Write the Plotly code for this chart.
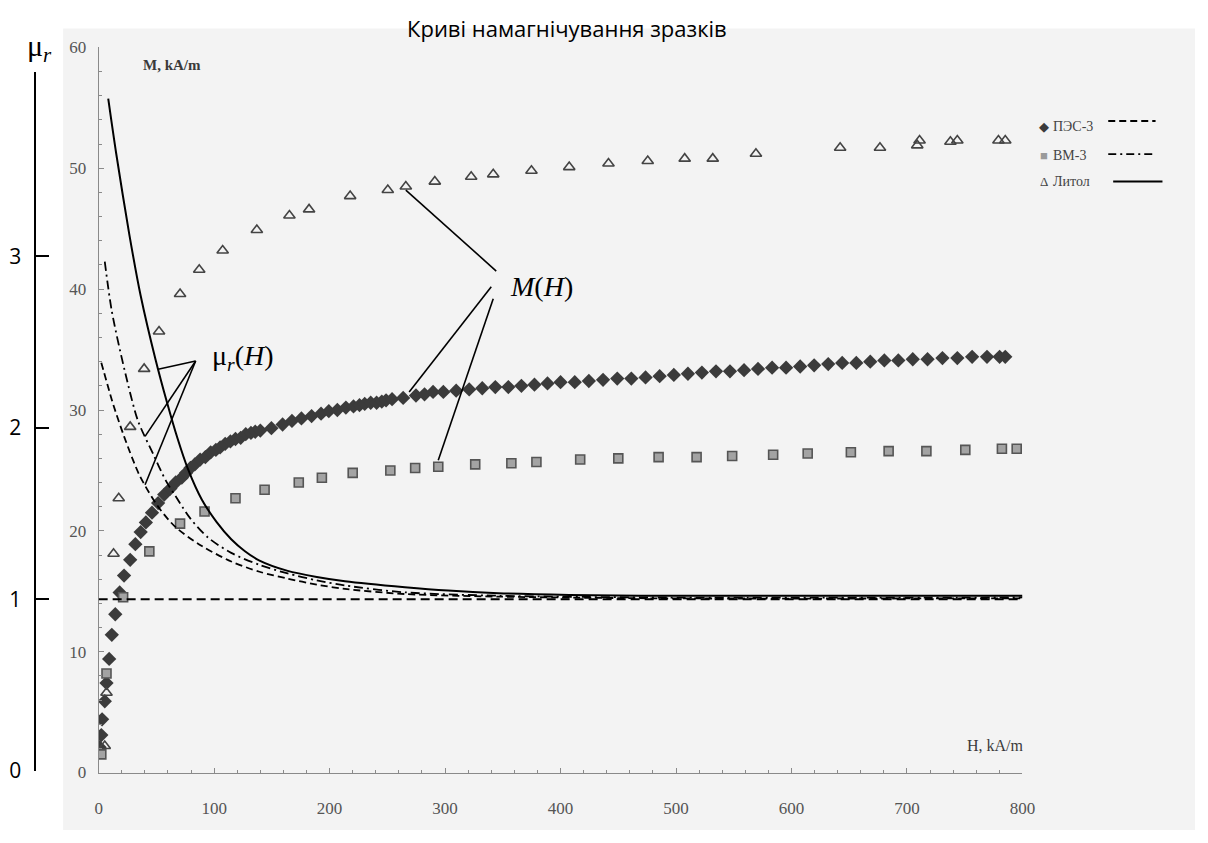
import numpy as np
import plotly.graph_objects as go

W, HT = 1208, 843

# ---- magnetisation M(H), H and M in kA/m ----
pes_h = [0.8, 2.3, 3.0, 5.3, 6.8, 9.1, 11.4, 14.4, 18.2, 22.0,
         27.3, 31.8, 36.4, 40.9, 46.2, 51.5, 56.8, 62.1, 66.7, 72.0,
         75.8, 79.5, 83.3, 87.9, 92.4, 97.0, 101.5, 105.2, 109.6, 114.1,
         118.5, 123.0, 127.4, 131.9, 135.6, 140.0, 149.6, 159.3, 167.4, 175.6,
         184.4, 192.6, 199.3, 206.7, 214.1, 220.7, 225.9, 230.4, 235.6, 240.7,
         245.2, 248.9, 254.1, 263.7, 274.8, 282.2, 289.6, 298.5, 309.6, 320.9,
         332.2, 343.5, 354.8, 366.1, 377.4, 388.7, 400.0, 412.3, 424.5, 436.8,
         449.1, 461.3, 473.6, 485.8, 498.1, 510.3, 522.4, 534.6, 546.7, 558.9,
         571.0, 583.2, 595.3, 607.5, 619.6, 631.8, 643.9, 656.1, 668.2, 680.4,
         692.5, 705.0, 717.8, 730.7, 743.6, 756.4, 769.3, 780.2, 785.1]
pes_m = [2.1, 3.1, 4.4, 5.9, 7.4, 9.4, 11.4, 13.1, 14.9, 16.3,
         17.6, 18.9, 19.9, 20.7, 21.5, 22.3, 23.0, 23.5, 24.0, 24.4,
         24.8, 25.2, 25.5, 25.9, 26.1, 26.5, 26.7, 26.9, 27.2, 27.4,
         27.6, 27.7, 28.0, 28.1, 28.2, 28.3, 28.5, 28.8, 29.1, 29.3,
         29.5, 29.7, 29.9, 30.0, 30.2, 30.3, 30.4, 30.5, 30.6, 30.6,
         30.7, 30.8, 30.9, 31.0, 31.2, 31.3, 31.5, 31.5, 31.6, 31.7,
         31.8, 31.9, 31.9, 32.0, 32.1, 32.2, 32.3, 32.3, 32.4, 32.5,
         32.6, 32.6, 32.7, 32.8, 32.9, 33.0, 33.1, 33.2, 33.2, 33.3,
         33.4, 33.5, 33.5, 33.6, 33.7, 33.8, 33.9, 33.9, 34.0, 34.1,
         34.1, 34.2, 34.2, 34.3, 34.3, 34.4, 34.4, 34.4, 34.4]

vm_h = [2.3, 6.8, 21.2, 43.9, 70.5, 91.7, 118.5, 143.7, 173.3, 193.3,
        220.0, 252.6, 274.1, 294.1, 326.1, 357.4, 379.1, 417.0, 450.0, 484.9,
        517.8, 548.6, 584.1, 614.0, 651.4, 684.1, 716.8, 750.5, 782.2, 795.0]
vm_m = [1.5, 8.2, 14.5, 18.3, 20.6, 21.6, 22.7, 23.4, 24.0, 24.4,
        24.8, 25.0, 25.2, 25.3, 25.5, 25.6, 25.7, 25.9, 26.0, 26.1,
        26.1, 26.2, 26.3, 26.4, 26.5, 26.6, 26.6, 26.7, 26.8, 26.8]

lit_h = [5.3, 6.8, 12.9, 17.4, 27.3, 39.4, 52.3, 70.5, 87.1, 107.4,
         137.0, 165.2, 182.2, 217.8, 250.4, 266.0, 291.1, 322.6, 341.7, 374.8,
         407.5, 441.5, 475.5, 507.5, 531.8, 569.2, 642.1, 676.6, 708.9, 710.9,
         737.6, 743.6, 779.2, 785.1]
lit_m = [2.2, 6.6, 18.1, 22.7, 28.6, 33.4, 36.5, 39.6, 41.6, 43.2,
         44.9, 46.1, 46.6, 47.7, 48.2, 48.5, 48.9, 49.3, 49.5, 49.8,
         50.1, 50.4, 50.6, 50.8, 50.8, 51.2, 51.7, 51.7, 51.9, 52.3,
         52.2, 52.3, 52.3, 52.3]

# ---- relative permeability mu_r(H) ----
mu_pes_h = [2.3, 9.8, 12.9, 22.0, 35.6, 51.5, 66.7, 89.4, 114.8, 139.3,
            163.7, 188.9, 213.3, 265.2, 346.1, 483.0, 800.0]
mu_pes = [2.38, 2.20, 2.13, 1.95, 1.72, 1.54, 1.42, 1.31, 1.22, 1.16,
          1.12, 1.085, 1.06, 1.03, 1.015, 1.005, 1.005]

mu_vm_h = [5.3, 11.4, 22.7, 34.1, 47.0, 58.3, 66.7, 79.5, 94.7, 114.8,
           139.3, 163.7, 188.9, 213.3, 265.2, 346.1, 483.0, 800.0]
mu_vm = [2.97, 2.68, 2.33, 2.04, 1.85, 1.69, 1.60, 1.47, 1.36, 1.27,
         1.20, 1.15, 1.11, 1.08, 1.04, 1.02, 1.01, 1.01]

mu_lit_h = [8.3, 15.2, 26.5, 36.4, 49.2, 59.1, 68.2, 77.3, 89.4, 102.2,
            114.8, 126.7, 139.3, 163.7, 188.9, 213.3, 265.2, 302.6, 346.1, 407.5,
            483.0, 800.0]
mu_lit = [3.92, 3.60, 3.13, 2.77, 2.40, 2.15, 1.94, 1.76, 1.58, 1.45,
          1.35, 1.28, 1.225, 1.165, 1.13, 1.105, 1.07, 1.05, 1.035, 1.025,
          1.02, 1.02]

mu_unit_h = [0.0, 800.0]
mu_unit = [1.0, 1.0]

h_ticks = [0, 100, 200, 300, 400, 500, 600, 700, 800]
m_ticks = [0, 10, 20, 30, 40, 50, 60]
mu_ticks = [0, 1, 2, 3]

legend_names = ["ПЭС-3", "ВМ-3", "Литол"]

SERIF = "Liberation Serif, Times New Roman, serif"
SANS = "Open Sans, Noto Sans, sans-serif"


def px_x(p):
    return p / W


def px_y(p):
    return 1 - p / HT


# pixel frame of the plot
X0, X1 = 96, 1033          # H = 0 .. 800
YM0, YM1 = 784, 39.5       # M = 0 .. 60
YMU0, YMU_TOP, MU_PX = 782, 65, 176.0   # mu_r axis: 0 at YMU0, 176 px per unit

fig = go.Figure()

fig.add_trace(go.Scatter(x=pes_h, y=pes_m, mode="markers", name=legend_names[0],
                         marker=dict(symbol="diamond", size=11, color="#3b3b3b",
                                     line=dict(width=0))))
fig.add_trace(go.Scatter(x=vm_h, y=vm_m, mode="markers", name=legend_names[1],
                         marker=dict(symbol="square", size=9, color="#a3a3a3",
                                     line=dict(width=1.6, color="#555555"))))
fig.add_trace(go.Scatter(x=lit_h, y=lit_m, mode="markers", name=legend_names[2],
                         marker=dict(symbol="triangle-up-open", size=10, color="#444444",
                                     line=dict(width=1.6))))

line_kw = dict(mode="lines", xaxis="x", yaxis="y2", showlegend=False)
fig.add_trace(go.Scatter(x=mu_unit_h, y=mu_unit,
                         line=dict(color="black", width=2, dash="9px,5px"), **line_kw))
fig.add_trace(go.Scatter(x=mu_pes_h, y=mu_pes,
                         line=dict(color="black", width=1.8, dash="7px,4px",
                                   shape="spline", smoothing=0.8), **line_kw))
fig.add_trace(go.Scatter(x=mu_vm_h, y=mu_vm,
                         line=dict(color="black", width=1.8, dash="9px,4px,2px,4px",
                                   shape="spline", smoothing=0.8), **line_kw))
fig.add_trace(go.Scatter(x=mu_lit_h, y=mu_lit,
                         line=dict(color="black", width=2, shape="spline", smoothing=0.8),
                         **line_kw))

shapes = []
# scanned paper background
shapes.append(dict(type="rect", xref="paper", yref="paper", layer="below",
                   x0=px_x(60), x1=1.0, y0=0.0, y1=px_y(20),
                   fillcolor="#f3f3f3", line=dict(width=0)))

# leader lines from the mu_r(H) label to the three curves
mu_tail_h, mu_tail = 84.0, 2.39
for h_head, hs, ys in [(51.5, mu_lit_h, mu_lit), (40.2, mu_vm_h, mu_vm), (40.2, mu_pes_h, mu_pes)]:
    shapes.append(dict(type="line", xref="x", yref="y2",
                       x0=mu_tail_h, y0=mu_tail, x1=h_head, y1=float(np.interp(h_head, hs, ys)),
                       line=dict(color="black", width=1.6)))

# leader lines from the M(H) label to the three point series
m_heads = [(lit_h[15], lit_m[15] - 0.3, 344.3, 41.5),
           (268.9, float(np.interp(268.9, pes_h, pes_m)) + 0.4, 340.0, 40.2),
           (vm_h[13], vm_m[13] + 0.55, 341.7, 39.2)]
for hx, hy, tx, ty in m_heads:
    shapes.append(dict(type="line", xref="x", yref="y", x0=tx, y0=ty, x1=hx, y1=hy,
                       line=dict(color="black", width=1.6)))

# legend line samples
shapes.append(dict(type="line", xref="paper", yref="paper", x0=px_x(1120), x1=px_x(1168),
                   y0=px_y(115), y1=px_y(115), line=dict(color="black", width=1.8, dash="7px,4px")))
shapes.append(dict(type="line", xref="paper", yref="paper", x0=px_x(1120), x1=px_x(1168),
                   y0=px_y(149), y1=px_y(149), line=dict(color="black", width=1.6, dash="8px,4px,2px,4px")))
shapes.append(dict(type="line", xref="paper", yref="paper", x0=px_x(1125), x1=px_x(1175),
                   y0=px_y(177), y1=px_y(177), line=dict(color="black", width=2)))

centered = dict(xanchor="center", yanchor="middle", showarrow=False)
annotations = [
    dict(text="Криві намагнічування зразків", x=px_x(571), y=px_y(20), xref="paper", yref="paper",
         font=dict(family=SANS, size=22, color="black"), **centered),
    dict(text="μ<sub><i>r</i></sub>", x=px_x(36), y=px_y(40), xref="paper", yref="paper",
         font=dict(family=SERIF, size=30, color="black"), **centered),
    dict(text="<b>M, kA/m</b>", x=px_x(170), y=px_y(58), xref="paper", yref="paper",
         font=dict(family=SERIF, size=15, color="#3a3a3a"), **centered),
    dict(text="H, kA/m", x=px_x(1006), y=px_y(756), xref="paper", yref="paper",
         font=dict(family=SERIF, size=16, color="#3a3a3a"), **centered),
    dict(text="μ<sub><i>r</i></sub>(<i>H</i>)", x=125.0, y=2.41, xref="x", yref="y2",
         font=dict(family=SERIF, size=28, color="black"), **centered),
    dict(text="<i>M</i>(<i>H</i>)", x=383.5, y=40.2, xref="x", yref="y",
         font=dict(family=SERIF, size=28, color="black"), **centered),
]

legend_rows = [("◆", "#3b3b3b", 121), ("■", "#9a9a9a", 150), ("Δ", "#444444", 177)]
for (glyph, col, ypx), name in zip(legend_rows, legend_names):
    annotations.append(dict(text=glyph, x=px_x(1055), y=px_y(ypx), xref="paper", yref="paper",
                            font=dict(family=SERIF, size=13, color=col), **centered))
    annotations.append(dict(text=name, x=px_x(1062), y=px_y(ypx), xref="paper", yref="paper",
                            xanchor="left", yanchor="middle", showarrow=False,
                            font=dict(family=SERIF, size=14, color="#444444")))

scan_axis = dict(showgrid=False, zeroline=False, showline=True, linecolor="#8a8a8a", linewidth=1,
                 ticks="inside", tickcolor="#8a8a8a", ticklen=5, tickwidth=1,
                 tickfont=dict(family=SERIF, size=17, color="#555555"))

fig.update_layout(
    width=W, height=HT, autosize=False,
    margin=dict(l=0, r=0, t=0, b=0),
    paper_bgcolor="white", plot_bgcolor="rgba(0,0,0,0)",
    showlegend=False,
    shapes=shapes, annotations=annotations,
    xaxis=dict(domain=[px_x(X0), px_x(X1)], range=[0, 800], tickvals=h_ticks,
               minor=dict(dtick=20, ticks="inside", ticklen=3, tickcolor="#8a8a8a"),
               ticklabelstandoff=20, anchor="y", **scan_axis),
    yaxis=dict(domain=[px_y(YM0), px_y(YM1)], range=[0, 60], tickvals=m_ticks,
               minor=dict(dtick=2, ticks="inside", ticklen=3, tickcolor="#8a8a8a"),
               ticklabelstandoff=8, anchor="x", **scan_axis),
    yaxis2=dict(domain=[px_y(YMU0), px_y(YMU_TOP)], range=[0, (YMU0 - YMU_TOP) / MU_PX],
                anchor="free", position=px_x(31), side="left", tickvals=mu_ticks,
                showgrid=False, zeroline=False, showline=True, linecolor="black", linewidth=2,
                ticks="inside", ticklen=13, tickwidth=2, tickcolor="black", ticklabelstandoff=8,
                tickfont=dict(family=SANS, size=21, color="black")),
)

fig.write_html("out.html")
